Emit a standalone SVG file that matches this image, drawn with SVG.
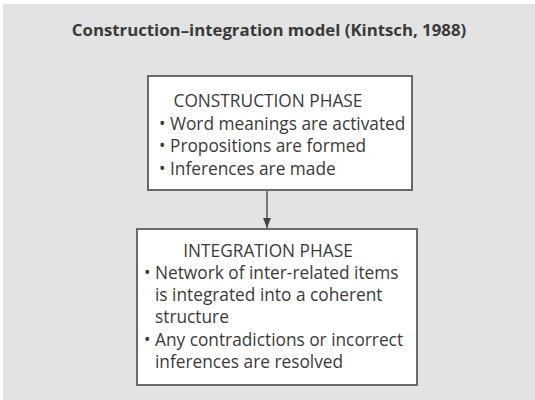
<svg xmlns="http://www.w3.org/2000/svg" width="535" height="400" viewBox="0 0 535 400">
<style>
.t{font-family:"Open Sans","Noto Sans",sans-serif;fill:#3a3a3a;font-size:17.3px}
.h{text-anchor:middle}
.box{fill:#ffffff;stroke:#6a6a6a;stroke-width:2}
.c{stroke:#555;stroke-width:1.5;fill:none}
</style>
<defs>
<marker id="ah" markerWidth="10" markerHeight="8" refX="10" refY="4" orient="auto" markerUnits="userSpaceOnUse" viewBox="0 0 10 8">
<path d="M0,0 L10,4 L0,8 Z" fill="#444"/>
</marker>
</defs>
<rect x="0" y="0" width="535" height="400" fill="#ffffff"/>
<rect x="3" y="4" width="532" height="396" fill="#e3e3e3"/>
<text class="t h" x="269" y="36" style="font-weight:bold;font-size:16.8px">Construction–integration model (Kintsch, 1988)</text>
<g id="connectors">
<line class="c" x1="267" y1="190" x2="267" y2="228" marker-end="url(#ah)"/>
</g>
<g id="construction">
<rect class="box" x="148" y="76" width="264" height="114"/>
<text class="t h" x="268" y="107">CONSTRUCTION PHASE</text>
<text class="t" x="159" y="130">• Word meanings are activated</text>
<text class="t" x="159" y="152">• Propositions are formed</text>
<text class="t" x="159" y="175">• Inferences are made</text>
</g>
<g id="integration">
<rect class="box" x="137" y="229" width="280" height="156"/>
<text class="t h" x="268" y="257">INTEGRATION PHASE</text>
<text class="t" x="144" y="279">• Network of inter-related items</text>
<text class="t" x="155" y="301">is integrated into a coherent</text>
<text class="t" x="155" y="323">structure</text>
<text class="t" x="144" y="346">• Any contradictions or incorrect</text>
<text class="t" x="155" y="368">inferences are resolved</text>
</g>
</svg>
